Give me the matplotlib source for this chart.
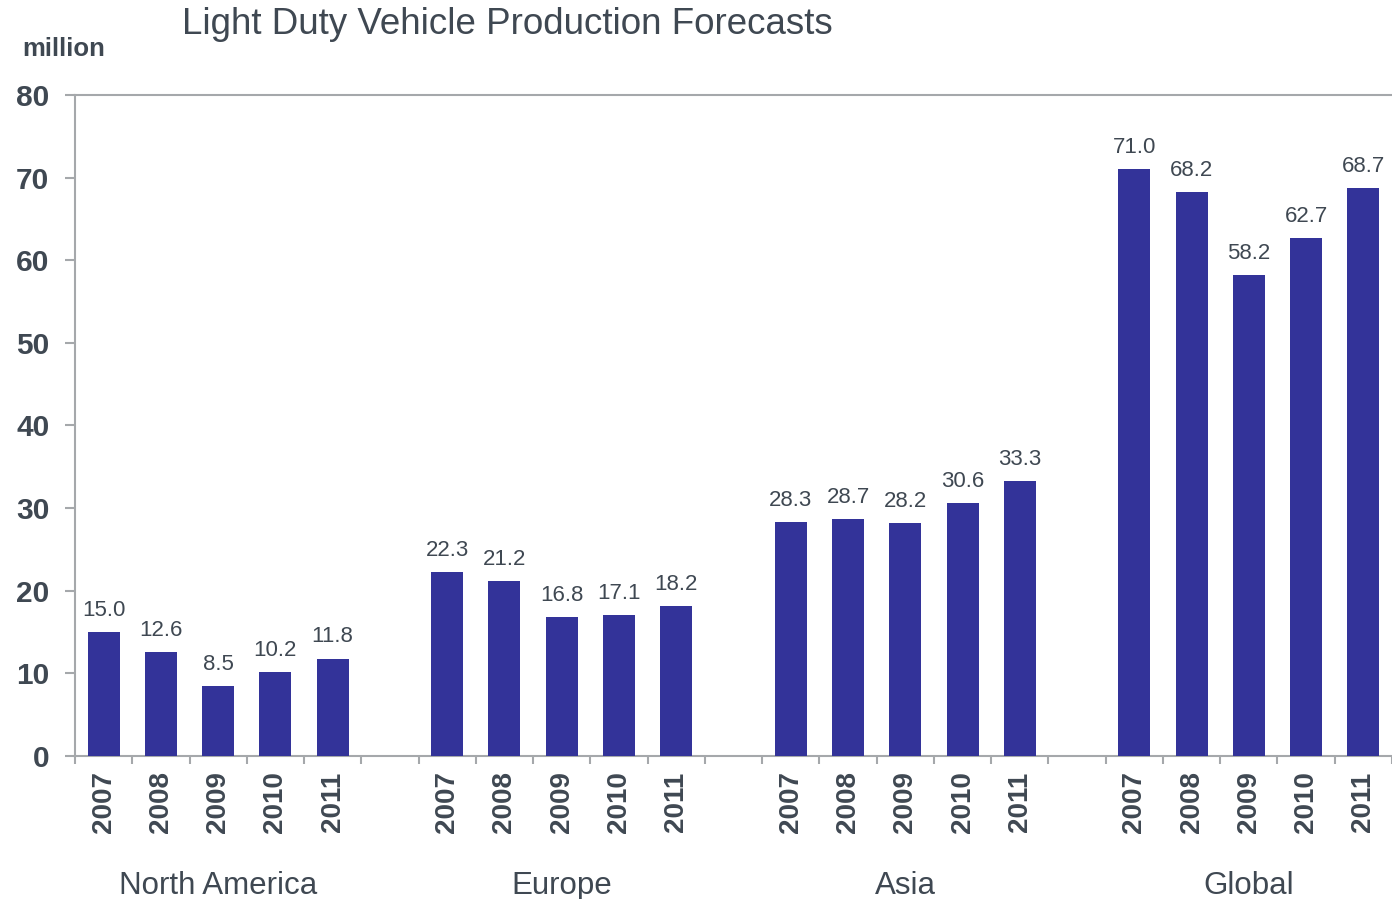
import matplotlib
matplotlib.use("Agg")
import matplotlib.pyplot as plt
import matplotlib.transforms as mtransforms

plt.rcParams['font.family'] = ['Liberation Sans', 'DejaVu Sans']

regions = ["North America", "Europe", "Asia", "Global"]
years = ["2007", "2008", "2009", "2010", "2011"]
north_america = [15.0, 12.6, 8.5, 10.2, 11.8]
europe = [22.3, 21.2, 16.8, 17.1, 18.2]
asia = [28.3, 28.7, 28.2, 30.6, 33.3]
global_ = [71.0, 68.2, 58.2, 62.7, 68.7]
series = [north_america, europe, asia, global_]
y_ticks = [0, 10, 20, 30, 40, 50, 60, 70, 80]

bar_color = "#333399"
text_color = "#3f4852"
axis_color = "#a5a8ab"

fig = plt.figure(figsize=(13.92, 8.99), dpi=100)
ax = fig.add_axes([75/1392, 1-756/899, 1-75/1392, (756-95)/899])

group_stride = len(years) + 1
positions, labels = [], []
for g, vals in enumerate(series):
    xs = [g * group_stride + i for i in range(len(vals))]
    ax.bar(xs, vals, width=0.56, color=bar_color, zorder=3)
    for x, v in zip(xs, vals):
        ax.annotate(f"{v:.1f}", (x, v), xytext=(0, 8), textcoords="offset points",
                    ha="center", va="bottom", fontsize=16, color=text_color,
                    annotation_clip=False)
    positions += xs
    labels += years
    ax.text(g * group_stride + 2, -0.196, regions[g],
            transform=mtransforms.blended_transform_factory(ax.transData, ax.transAxes),
            ha="center", va="center", fontsize=22.5, color=text_color)

n_slots = len(series) * group_stride
ax.set_xlim(-0.5, 22.31)
ax.set_ylim(0, 80)
ax.set_yticks(y_ticks)
ax.set_yticklabels([str(t) for t in y_ticks], fontsize=21.5, fontweight="bold", color=text_color)
ax.set_xticks(positions)
ax.set_xticklabels(labels, rotation=90, fontsize=20, fontweight="bold", color=text_color)
ax.set_xticks([i - 0.5 for i in range(n_slots)], minor=True)
ax.tick_params(axis="x", which="major", length=0, pad=11)
ax.tick_params(axis="x", which="minor", length=5.5, width=1.5, color=axis_color)
ax.tick_params(axis="y", length=7.5, width=1.5, color=axis_color, pad=11)

for side in ["left", "bottom", "top"]:
    ax.spines[side].set_color(axis_color)
    ax.spines[side].set_linewidth(1.5)
ax.spines["right"].set_visible(False)

fig.text(182/1392, 1-24/899, "Light Duty Vehicle Production Forecasts",
         fontsize=26.5, color=text_color, ha="left", va="center")
fig.text(22/1392, 1-49/899, "million", fontsize=18.5, fontweight="bold",
         color=text_color, ha="left", va="center")

fig.savefig("out.png", dpi=100)
